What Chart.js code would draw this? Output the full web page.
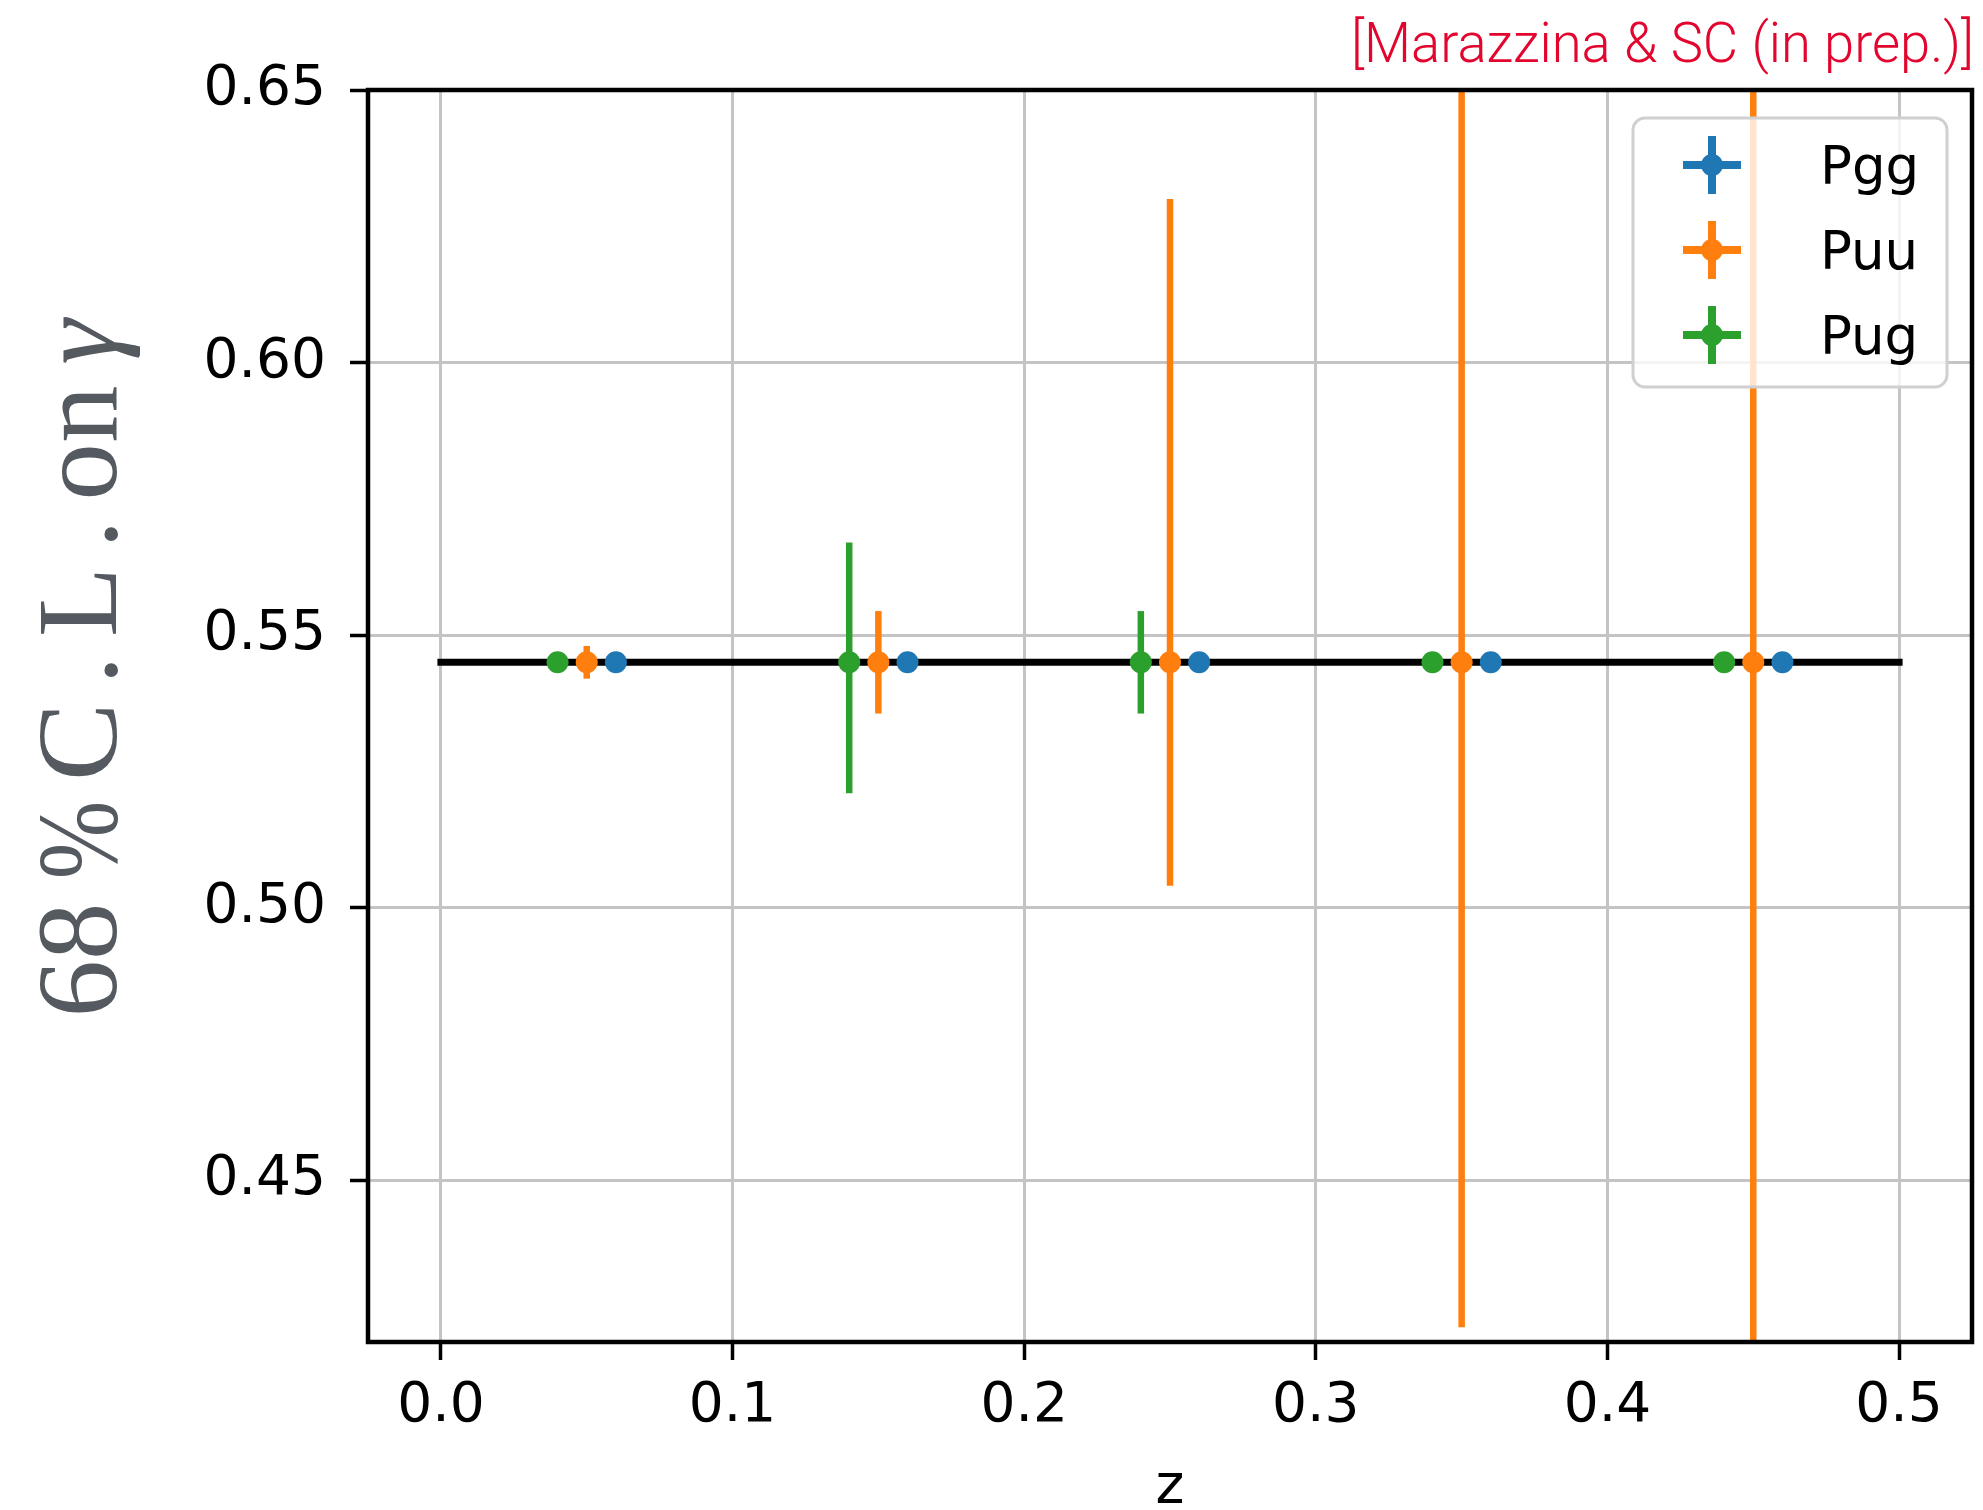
<!DOCTYPE html>
<html><head><meta charset="utf-8">
<script src="https://cdn.jsdelivr.net/npm/chart.js@4.4.1/dist/chart.umd.min.js"></script>
<style>html,body{margin:0;padding:0;background:#fff;overflow:hidden}#wrap{width:1983px;height:1510px;position:relative}</style>
</head><body><div id="wrap"><canvas id="c"></canvas></div>
<script>
// ---- data ----
const seriesNames = ['Pgg', 'Puu', 'Pug'];
const seriesColors = ['#1f77b4', '#ff7f0e', '#2ca02c'];
const zPgg = [0.06, 0.16, 0.26, 0.36, 0.46];
const zPuu = [0.05, 0.15, 0.25, 0.35, 0.45];
const zPug = [0.04, 0.14, 0.24, 0.34, 0.44];
const yPgg = [0.545, 0.545, 0.545, 0.545, 0.545];
const yPuu = [0.545, 0.545, 0.545, 0.545, 0.545];
const yPug = [0.545, 0.545, 0.545, 0.545, 0.545];
const errLoPgg = [0, 0, 0, 0, 0];
const errHiPgg = [0, 0, 0, 0, 0];
const errLoPuu = [0.003, 0.0094, 0.041, 0.122, 0.15];
const errHiPuu = [0.003, 0.0094, 0.085, 0.13, 0.15];
const errLoPug = [0, 0.024, 0.0094, 0, 0];
const errHiPug = [0, 0.022, 0.0094, 0, 0];
const refLineZ = [0.0, 0.5];
const refLineY = [0.545, 0.545];
const xTicks = [0.0, 0.1, 0.2, 0.3, 0.4, 0.5];
const yTicks = [0.45, 0.50, 0.55, 0.60, 0.65];
const xRange = [-0.025, 0.525];
const yRange = [0.4203, 0.65];
const xTitle = 'z';
const yTitleParts = ['68', '%', 'C', '.', 'L', '.', 'on', 'γ'];
const credit = '[Marazzina & SC (in prep.)]';

// ---- build ----
const pts = (xs, ys) => xs.map((x, i) => ({x: x, y: ys[i]}));
const series = [
  {z: zPgg, y: yPgg, lo: errLoPgg, hi: errHiPgg},
  {z: zPuu, y: yPuu, lo: errLoPuu, hi: errHiPuu},
  {z: zPug, y: yPug, lo: errLoPug, hi: errHiPug}
];
const datasets = [{
  type: 'line', label: 'ref', data: pts(refLineZ, refLineY), borderColor: '#000',
  borderWidth: 7, borderCapStyle: 'square', pointRadius: 0, fill: false, order: 10
}].concat(series.map((s, i) => ({
  type: 'scatter', label: seriesNames[i], data: pts(s.z, s.y),
  backgroundColor: seriesColors[i], borderWidth: 0, pointRadius: 11, pointHoverRadius: 11,
  order: 3 - i, errLo: s.lo, errHi: s.hi
})));

const errorBars = {
  id: 'errorBars',
  beforeDatasetsDraw(chart) {
    const {ctx, chartArea: a, scales: {x, y}} = chart;
    ctx.save();
    ctx.beginPath(); ctx.rect(a.left, a.top, a.right - a.left, a.bottom - a.top); ctx.clip();
    ctx.lineWidth = 6.5; ctx.lineCap = 'butt';
    chart.data.datasets.forEach(ds => {
      if (!ds.errLo) return;
      ctx.strokeStyle = ds.backgroundColor;
      ds.data.forEach((p, i) => {
        const lo = ds.errLo[i], hi = ds.errHi[i];
        if (!lo && !hi) return;
        const px = x.getPixelForValue(p.x);
        ctx.beginPath();
        ctx.moveTo(px, y.getPixelForValue(p.y - lo));
        ctx.lineTo(px, y.getPixelForValue(p.y + hi));
        ctx.stroke();
      });
    });
    ctx.restore();
  }
};

const frame = {
  id: 'frame',
  afterDatasetsDraw(chart) {
    const {ctx, chartArea: a} = chart;
    ctx.save();
    ctx.strokeStyle = '#000'; ctx.lineWidth = 4.5; ctx.lineJoin = 'miter';
    ctx.strokeRect(a.left, a.top, a.right - a.left, a.bottom - a.top);
    ctx.restore();
  }
};

const decor = {
  id: 'decor',
  afterDraw(chart) {
    const {ctx, chartArea: a} = chart;
    ctx.save();
    // legend
    const bx = 1633, by = 118, bw = 314, bh = 269, r = 12;
    ctx.beginPath();
    ctx.roundRect(bx, by, bw, bh, r);
    ctx.fillStyle = 'rgba(255,255,255,0.8)'; ctx.fill();
    ctx.strokeStyle = '#d0d0d0'; ctx.lineWidth = 3; ctx.stroke();
    seriesNames.forEach((name, i) => {
      const cy = 165 + i * 85, cx = 1712;
      ctx.strokeStyle = seriesColors[i]; ctx.lineWidth = 8; ctx.lineCap = 'butt';
      ctx.beginPath(); ctx.moveTo(cx - 29, cy); ctx.lineTo(cx + 29, cy);
      ctx.moveTo(cx, cy - 29); ctx.lineTo(cx, cy + 29); ctx.stroke();
      ctx.fillStyle = seriesColors[i];
      ctx.beginPath(); ctx.arc(cx, cy, 11, 0, Math.PI * 2); ctx.fill();
      ctx.fillStyle = '#000'; ctx.font = '53px "DejaVu Sans"';
      ctx.textAlign = 'left'; ctx.textBaseline = 'alphabetic';
      ctx.fillText(name, 1820, cy + 18.5);
    });
    // x title
    ctx.fillStyle = '#000'; ctx.font = '55px "DejaVu Sans"';
    ctx.textAlign = 'center'; ctx.textBaseline = 'alphabetic';
    ctx.fillText(xTitle, (a.left + a.right) / 2, 1503);
    // y title: each part centred at its own spot along the rotated baseline
    const centres = [960, 840, 742, 670, 602, 534, 443, 342];
    const stretch = [1, 0.82, 1.02, 1, 1, 1, 1, 1];
    ctx.fillStyle = '#555a61'; ctx.textAlign = 'center'; ctx.textBaseline = 'alphabetic';
    yTitleParts.forEach((t, i) => {
      ctx.save();
      ctx.translate(116, centres[i]);
      ctx.rotate(-Math.PI / 2);
      ctx.scale(stretch[i], 1);
      ctx.font = (i === yTitleParts.length - 1 ? 'italic ' : '') + '115px "Liberation Serif"';
      ctx.fillText(t, 0, 0);
      ctx.restore();
    });
    // credit
    ctx.save();
    ctx.font = '300 56px Roboto';
    const w = ctx.measureText(credit).width;
    ctx.translate(1351, 62);
    ctx.scale(623 / w, 1);
    ctx.fillStyle = '#e2062f'; ctx.textAlign = 'left'; ctx.textBaseline = 'alphabetic';
    ctx.fillText(credit, 0, 0);
    ctx.restore();
    ctx.restore();
  }
};

const tickFont = {family: '"DejaVu Sans"', size: 55};
new Chart(document.getElementById('c'), {
  data: {datasets: datasets},
  options: {
    responsive: true, maintainAspectRatio: false, animation: false, devicePixelRatio: 1,
    events: [],
    layout: {padding: {left: 0, right: 8, top: 90, bottom: 0}},
    plugins: {legend: {display: false}, tooltip: {enabled: false}},
    scales: {
      x: {
        type: 'linear', min: xRange[0], max: xRange[1],
        afterBuildTicks: s => { s.ticks = xTicks.map(v => ({value: v})); },
        afterFit: s => { s.height = 168; },
        grid: {color: '#c4c4c4', lineWidth: 3, tickColor: '#000', tickWidth: 3.5, tickLength: 18},
        border: {display: false},
        ticks: {font: tickFont, color: '#000', padding: 14, maxRotation: 0, autoSkip: false,
                callback: v => Number(v).toFixed(1)}
      },
      y: {
        type: 'linear', min: yRange[0], max: yRange[1],
        afterBuildTicks: s => { s.ticks = yTicks.map(v => ({value: v})); },
        afterFit: s => { s.width = 368; },
        grid: {color: '#c4c4c4', lineWidth: 3, tickColor: '#000', tickWidth: 3.5, tickLength: 18},
        border: {display: false},
        ticks: {font: tickFont, color: '#000', padding: 24, autoSkip: false,
                callback: v => Number(v).toFixed(2)}
      }
    }
  },
  plugins: [errorBars, frame, decor]
});
</script></body></html>
